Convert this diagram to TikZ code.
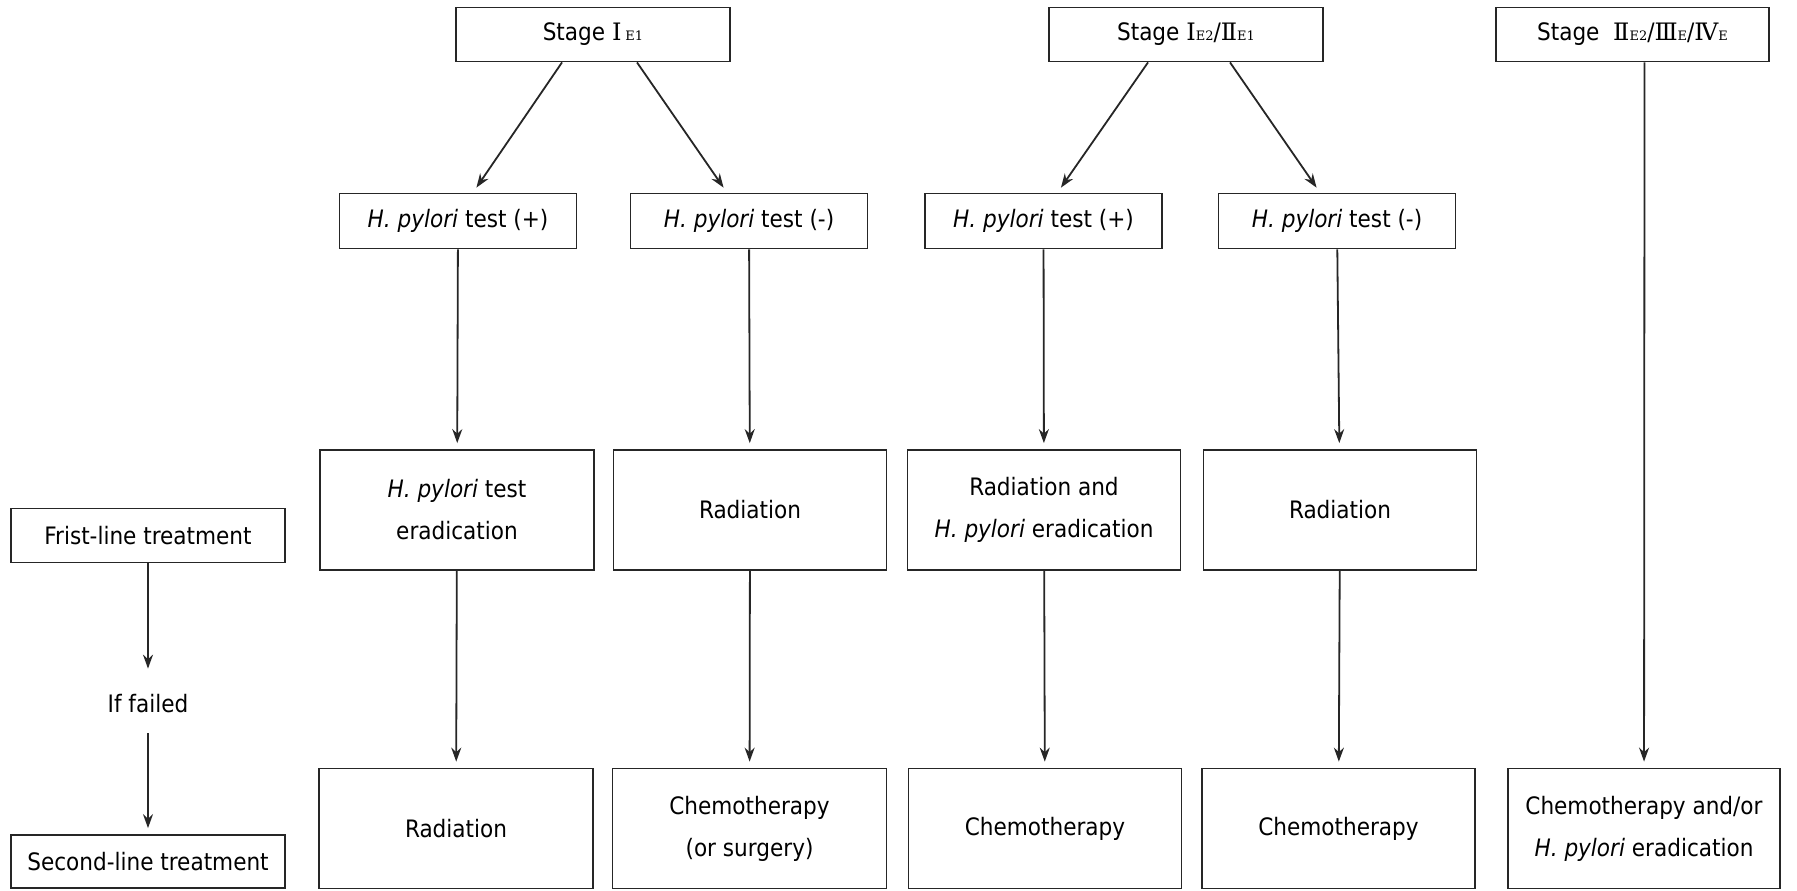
\documentclass[tikz,border=0pt]{standalone}
\usepackage{fontspec}
\setmainfont{DejaVu Sans Condensed}
\newfontfamily\romfont{DejaVu Serif}
\usepackage{tikz}
\usetikzlibrary{positioning, arrows.meta}
\newcommand{\rn}[1]{{\romfont #1}}
\newcommand{\rs}[1]{{\romfont\fontsize{6.5}{7}\selectfont #1}}
\tikzset{
  stage/.style={rectangle, minimum width=137pt, minimum height=27pt, text centered, draw=black!85, line width=0.9pt},
  test/.style={rectangle, minimum width=118.5pt, minimum height=27.5pt, text centered, draw=black!85, line width=0.9pt},
  process/.style={rectangle, minimum width=137pt, minimum height=60pt, align=center, draw=black!85, line width=0.9pt},
  legend/.style={rectangle, minimum width=137pt, minimum height=27pt, text centered, draw=black!85, line width=0.9pt},
  arrow/.style={line width=0.9pt, draw=black!85, ->, >={Stealth[length=7pt,width=5pt]}, shorten >=3pt}
}

\begin{document}
\begin{tikzpicture}[x=0.5pt, y=-0.5pt, every node/.style={font=\fontsize{12}{21}\selectfont}]
  \useasboundingbox (0,0) rectangle (1797,890);

  % Estadios
  \node (s1) [stage] at (593,34.5) {Stage \rn{Ⅰ}\,\rs{E1}};
  \node (s2) [stage] at (1186,34.5) {Stage \rn{Ⅰ}\rs{E2}/\rn{Ⅱ}\rs{E1}};
  \node (s3) [stage, minimum width=136.5pt] at (1632.5,34.5) {Stage\ \ \rn{Ⅱ}\rs{E2}/\rn{Ⅲ}\rs{E}/\rn{Ⅳ}\rs{E}};

  % Prueba H. pylori
  \node (p1) [test] at (458,221) {\textit{H. pylori} test (+)};
  \node (n1) [test] at (749,221) {\textit{H. pylori} test (-)};
  \node (p2) [test] at (1043.5,221) {\textit{H. pylori} test (+)};
  \node (n2) [test] at (1337,221) {\textit{H. pylori} test (-)};

  % Primera linea
  \node (r1) [process] at (457,510) {\textit{H. pylori} test\\eradication};
  \node (r2) [process, minimum width=136.5pt] at (750,510) {Radiation};
  \node (r3) [process, minimum width=136.5pt] at (1044,510) {Radiation and\\\textit{H. pylori} eradication};
  \node (r4) [process, minimum width=136.5pt] at (1340,510) {Radiation};

  % Segunda linea
  \node (c1) [process] at (456,828.5) {Radiation};
  \node (c2) [process] at (749.5,828.5) {Chemotherapy\\(or surgery)};
  \node (c3) [process, minimum width=136.5pt] at (1045,828.5) {Chemotherapy};
  \node (c4) [process, minimum width=136.5pt] at (1338.5,828.5) {Chemotherapy};
  \node (c5) [process, minimum width=136pt] at (1644,828.5) {Chemotherapy and/or\\\textit{H. pylori} eradication};

  % Leyenda
  \node (first) [legend] at (148,535.5) {Frist-line treatment};
  \node (fail) [minimum height=29pt, inner sep=0pt] at (148,704) {If failed};
  \node (second) [legend, minimum height=26.5pt] at (148,861.5) {Second-line treatment};

  % Flechas
  \draw [arrow] ([xshift=-15.5pt]s1.south) -- ([xshift=7.5pt]p1.north);
  \draw [arrow] ([xshift=22pt]s1.south) -- ([xshift=-11pt]n1.north);
  \draw [arrow] ([xshift=-19pt]s2.south) -- ([xshift=7pt]p2.north);
  \draw [arrow] ([xshift=22pt]s2.south) -- ([xshift=-8.5pt]n2.north);
  \draw [arrow] ([xshift=6pt]s3.south) -- (c5);

  \draw [arrow] (p1) -- (r1);
  \draw [arrow] (n1) -- (r2);
  \draw [arrow] (p2) -- (r3);
  \draw [arrow] (n2) -- (r4);

  \draw [arrow] (r1) -- (c1);
  \draw [arrow] (r2) -- (c2);
  \draw [arrow] (r3) -- (c3);
  \draw [arrow] (r4) -- (c4);

  \draw [arrow] (first) -- (fail);
  \draw [arrow] (fail) -- (second);

\end{tikzpicture}
\end{document}
